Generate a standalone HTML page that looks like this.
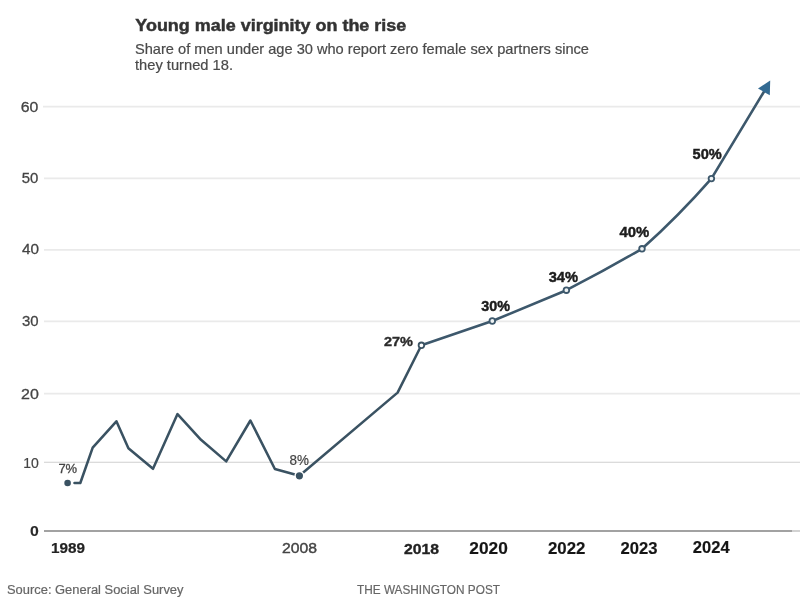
<!DOCTYPE html>
<html lang="en">
<head>
<meta charset="utf-8">
<title>Young male virginity on the rise</title>
<style>
  html, body { margin: 0; padding: 0; background: #ffffff; }
  body { width: 800px; height: 597px; overflow: hidden; position: relative;
         font-family: "Liberation Sans", sans-serif; }
  svg { position: absolute; left: 0; top: 0; display: block; }
  #chart { filter: blur(0.6px); }
  text { font-family: "Liberation Sans", sans-serif; }
  .grid line { stroke: #eaeaea; stroke-width: 1.7; }
  .axis { stroke: #a2a2a2; stroke-width: 2; }
  .ylab text { font-size: 15.4px; fill: #444; text-anchor: end; stroke: #444; stroke-width: 0.3; }
  .xlab text { font-size: 14.5px; fill: #222; }
  .b { font-weight: bold; }
  .xlab text.c { font-size: 16.3px; fill: #151515; stroke: #151515; stroke-width: 0.15; }
  .pl text { font-size: 12.8px; font-weight: bold; fill: #2b2b2b; }
  .pl text.c { font-size: 15px; fill: #1c1c1c; stroke: #1c1c1c; stroke-width: 0.45; }
  .series { fill: none; stroke: #3a5262; stroke-width: 2.55; stroke-linejoin: round; stroke-linecap: round; }
  .series.s2 { stroke: #3d586c; stroke-width: 2.6; }
  .ring.r2 { stroke: #3d586c; fill: #eef2f3; stroke-width: 1.8; }
  .dot { fill: #3a5262; }
  .ring { fill: #ffffff; stroke: #3a5262; stroke-width: 1.8; }
</style>
</head>
<body>
<svg width="800" height="597" viewBox="0 0 800 597">
  <rect width="800" height="597" fill="#ffffff"/>
  <g id="chart">

  <!-- heading -->
  <text x="135.3" y="31.2" font-size="16.2" font-weight="bold" fill="#333333" stroke="#333333" stroke-width="0.45" textLength="271" lengthAdjust="spacingAndGlyphs">Young male virginity on the rise</text>
  <text x="135" y="53.6" font-size="14.4" fill="#4a4a4a" stroke="#4a4a4a" stroke-width="0.2" textLength="454" lengthAdjust="spacingAndGlyphs">Share of men under age 30 who report zero female sex partners since</text>
  <text x="135" y="69.7" font-size="14.4" fill="#4a4a4a" stroke="#4a4a4a" stroke-width="0.2" textLength="98" lengthAdjust="spacingAndGlyphs">they turned 18.</text>

  <!-- grid -->
  <g class="grid">
    <line x1="43" x2="800" y1="106.7" y2="106.7"/>
    <line x1="44" x2="800" y1="178.3" y2="178.3"/>
    <line x1="44" x2="800" y1="249.8" y2="249.8"/>
    <line x1="44" x2="800" y1="321.3" y2="321.3"/>
    <line x1="44" x2="800" y1="393.7" y2="393.7"/>
    <line x1="44" x2="800" y1="462.2" y2="462.2" style="stroke:#cfcfcf;stroke-width:1.1"/>
  </g>
  <line class="axis" x1="44" x2="792" y1="531" y2="531"/>
  <line class="axis" x1="792" x2="800" y1="531" y2="531" style="stroke:#d2d2d2"/>

  <!-- y labels -->
  <g class="ylab">
    <text x="38.4" y="111.7" textLength="17.6" lengthAdjust="spacingAndGlyphs">60</text>
    <text x="38.3" y="183.3" textLength="16.6" lengthAdjust="spacingAndGlyphs">50</text>
    <text x="38.9" y="253.6" textLength="17" lengthAdjust="spacingAndGlyphs">40</text>
    <text x="38.5" y="326.4" textLength="16.6" lengthAdjust="spacingAndGlyphs">30</text>
    <text x="38.9" y="398.8" textLength="17.8" lengthAdjust="spacingAndGlyphs">20</text>
    <text x="38.8" y="467.5" textLength="15.6" lengthAdjust="spacingAndGlyphs" style="font-size:14.6px;stroke-width:0.2">10</text>
    <text x="38.9" y="536.4" class="b" textLength="8.8" lengthAdjust="spacingAndGlyphs" style="font-size:14px;fill:#2a2a2a;stroke:#2a2a2a;stroke-width:0.1">0</text>
  </g>

  <!-- series -->
  <polyline class="series" points="74.5,483 80.3,483 92.7,447.7 116.4,421.3 128.4,448.3 153,468.8 177.5,414.1 201,439.8 226.2,461.4 250.4,420.5 274.9,469 299.4,475.8 397.6,392.6 421.4,345.3"/>
  <path class="series s2" d="M421.4,345.3 L492.3,321 L566.4,290.2 Q604.7,270.4 642,248.8 Q678.8,215.8 711.4,178.6 L765,90"/>
  <polygon points="770.2,80.6 758,88.6 769.8,95.2" fill="#336a92"/>
  <circle class="dot" cx="67.6" cy="483" r="3.3"/>
  <circle class="dot" cx="299.4" cy="475.8" r="4.3" style="stroke:#fff;stroke-width:1.4"/>
  <circle class="ring" cx="421.4" cy="345.3" r="2.8"/>
  <circle class="ring r2" cx="492.3" cy="321" r="2.8"/>
  <circle class="ring r2" cx="566.4" cy="290.2" r="2.8"/>
  <circle class="ring r2" cx="642" cy="248.8" r="2.8"/>
  <circle class="ring r2" cx="711.4" cy="178.6" r="2.8"/>

  <!-- point labels -->
  <g class="pl">
    <text x="58.4" y="472.8" style="font-weight:normal;font-size:13.2px;fill:#454545;stroke:#454545;stroke-width:0.3" textLength="18.8" lengthAdjust="spacingAndGlyphs">7%</text>
    <text x="289.6" y="465" style="font-weight:normal;font-size:14.2px;fill:#454545;stroke:#454545;stroke-width:0.2" textLength="19.4" lengthAdjust="spacingAndGlyphs">8%</text>
    <text x="384" y="345.6" textLength="29" lengthAdjust="spacingAndGlyphs" style="stroke:#2b2b2b;stroke-width:0.35">27%</text>
    <text x="481.2" y="310.6" textLength="28.8" lengthAdjust="spacingAndGlyphs" class="c">30%</text>
    <text x="548.7" y="281.6" textLength="29.4" lengthAdjust="spacingAndGlyphs" class="c">34%</text>
    <text x="619.5" y="237.2" textLength="29.8" lengthAdjust="spacingAndGlyphs" class="c">40%</text>
    <text x="692.6" y="158.8" textLength="29.2" lengthAdjust="spacingAndGlyphs" class="c">50%</text>
  </g>

  <!-- x labels -->
  <g class="xlab">
    <text x="51" y="553.4" class="b" textLength="34" style="font-size:14.2px;stroke:#222;stroke-width:0.2" lengthAdjust="spacingAndGlyphs">1989</text>
    <text x="282" y="553.3" textLength="35" lengthAdjust="spacingAndGlyphs" style="fill:#444;stroke:#444;stroke-width:0.4;font-size:14.3px">2008</text>
    <text x="404" y="553.9" class="b" textLength="35" style="font-size:14.6px;stroke:#222;stroke-width:0.35" lengthAdjust="spacingAndGlyphs">2018</text>
    <text x="469.3" y="553.8" class="b c" textLength="38.5" lengthAdjust="spacingAndGlyphs">2020</text>
    <text x="548" y="553.6" class="b c" textLength="37.5" lengthAdjust="spacingAndGlyphs">2022</text>
    <text x="620.5" y="553.9" class="b c" textLength="37" lengthAdjust="spacingAndGlyphs">2023</text>
    <text x="692.8" y="552.8" class="b c" textLength="36.8" lengthAdjust="spacingAndGlyphs">2024</text>
  </g>

  <!-- footer -->
  <text x="7" y="593.6" font-size="12.5" fill="#666666" stroke="#666666" stroke-width="0.2" textLength="176.5" lengthAdjust="spacingAndGlyphs">Source: General Social Survey</text>
  <text x="357" y="593.8" font-size="13" fill="#666666" stroke="#666666" stroke-width="0.2" textLength="143" lengthAdjust="spacingAndGlyphs">THE WASHINGTON POST</text>
  </g>
</svg>
</body>
</html>
